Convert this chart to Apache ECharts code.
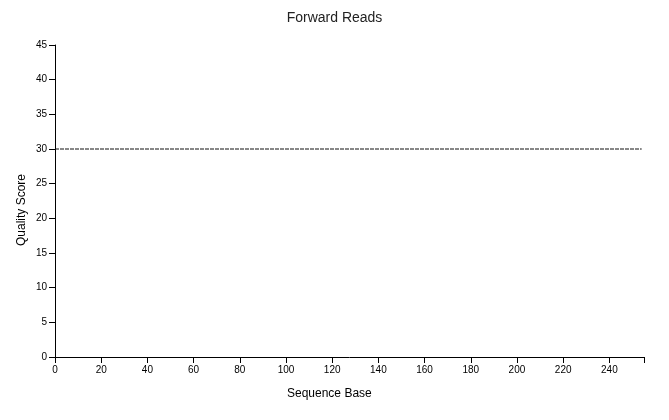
<!DOCTYPE html>
<html>
<head>
<meta charset="utf-8">
<script src="https://cdn.jsdelivr.net/npm/echarts@6/dist/echarts.min.js"></script>
<style>html,body{margin:0;padding:0;background:#fff}#c{width:669px;height:420px}</style>
</head>
<body>
<div id="c"></div>
<script>
var chartTitle = "Forward Reads";
var xTitle = "Sequence Base";
var yTitle = "Quality Score";
var bases = [0, 254];
var quality = [30, 30];
var xMax = 255;
var yMax = 45;

var chart = echarts.init(document.getElementById('c'), null, {renderer: 'canvas'});
var font = 'Liberation Sans, Arial, Helvetica, sans-serif';
var axisLine = {show: true, lineStyle: {color: '#000', width: 1}};
var axisTick = {show: true, length: 6, inside: false, lineStyle: {color: '#000', width: 1}};
chart.setOption({
  animation: false,
  title: {text: chartTitle, left: 'center', top: 6,
    textStyle: {fontSize: 14, fontWeight: 'normal', color: '#222', fontFamily: font}},
  grid: {left: 55, right: 25, top: 45, bottom: 63, containLabel: false},
  xAxis: {type: 'value', min: 0, max: xMax, interval: 20,
    axisLine: axisLine, axisTick: axisTick, splitLine: {show: false},
    axisLabel: {color: '#000', fontSize: 10, fontFamily: font, margin: 8,
      formatter: function (v) { return v === xMax ? '' : v; }}},
  yAxis: {type: 'value', min: 0, max: yMax, interval: 5,
    axisLine: axisLine, axisTick: axisTick, splitLine: {show: false},
    axisLabel: {color: '#000', fontSize: 10, fontFamily: font, margin: 8}},
  graphic: [
    {type: 'text', left: 287, top: 388, style: {text: xTitle, fontSize: 12, fontFamily: font, fill: '#000'}},
    {type: 'text', x: 22, y: 210, rotation: Math.PI / 2, style: {text: yTitle, fontSize: 12, fontFamily: font, fill: '#000', textAlign: 'center', textVerticalAlign: 'middle'}}
  ],
  series: [{
    type: 'line',
    data: bases.map(function (b, i) { return [b, quality[i]]; }),
    symbol: 'none',
    lineStyle: {color: '#111', width: 1, type: [4, 1]}
  }]
});
</script>
</body>
</html>
